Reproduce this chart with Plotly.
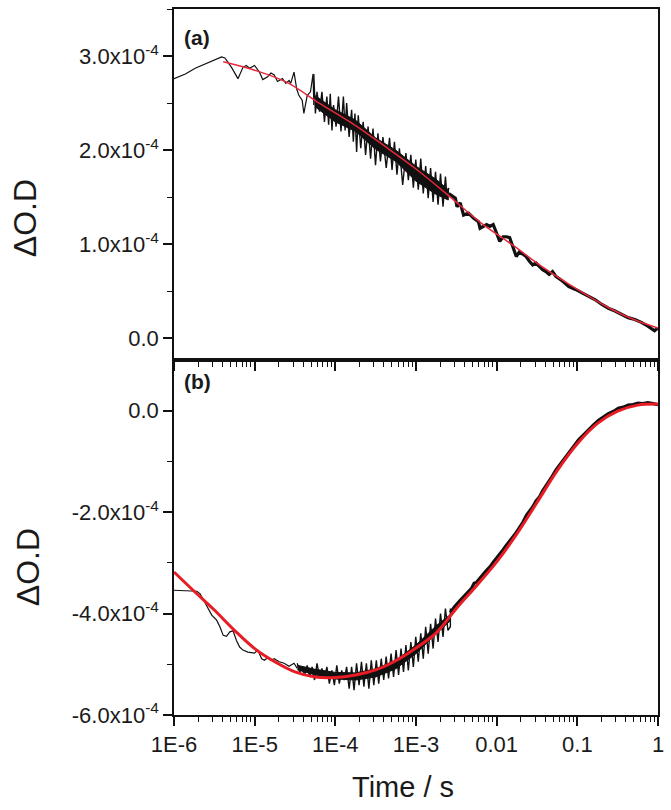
import plotly.graph_objects as go

# ---------------- Panel (a) ----------------
# values: log10(time / s) and ΔO.D in units of 1e-4
a_raw_logt = [-6.0, -5.859, -5.737, -5.574, -5.41, -5.369, -5.287, -5.207, -5.145, -5.104,
              -5.063, -5.002, -4.941, -4.900, -4.839, -4.798, -4.757, -4.717, -4.656, -4.614,
              -4.574, -4.553, -4.512, -4.479, -4.451, -4.411, -4.390, -4.349, -4.308, -4.276, -4.267]
a_raw_dod = [2.76, 2.81, 2.87, 2.93, 2.99, 2.98, 2.88, 2.76, 2.88, 2.90,
             2.87, 2.90, 2.83, 2.75, 2.78, 2.82, 2.80, 2.73, 2.76, 2.71,
             2.74, 2.71, 2.83, 2.65, 2.58, 2.53, 2.39, 2.58, 2.62, 2.81, 2.48]

# dense noisy part: upper and lower spike tips
a_band_hi_logt = [-4.267, -4.227, -4.166, -4.105, -4.063, -4.022, -3.961, -3.900, -3.860, -3.798,
                  -3.757, -3.716, -3.655, -3.594, -3.533, -3.472, -3.410, -3.328, -3.267, -3.206,
                  -3.125, -3.064, -3.003, -2.941, -2.880, -2.819, -2.758, -2.696, -2.635, -2.594]
a_band_hi = [2.81, 2.62, 2.62, 2.57, 2.60, 2.48, 2.57, 2.57, 2.50, 2.43,
             2.39, 2.37, 2.30, 2.25, 2.23, 2.18, 2.14, 2.13, 2.09, 2.02,
             1.97, 1.95, 1.90, 1.91, 1.83, 1.81, 1.77, 1.75, 1.72, 1.60]
a_band_lo_logt = [-4.247, -4.196, -4.135, -4.083, -4.042, -3.991, -3.930, -3.879, -3.829, -3.777,
                  -3.736, -3.685, -3.625, -3.563, -3.502, -3.441, -3.369, -3.297, -3.236, -3.165,
                  -3.095, -3.033, -2.972, -2.910, -2.849, -2.788, -2.727, -2.665, -2.614]
a_band_lo = [2.39, 2.41, 2.30, 2.27, 2.21, 2.25, 2.20, 2.21, 2.14, 2.09,
             1.98, 2.02, 1.95, 1.91, 1.84, 1.88, 1.81, 1.79, 1.74, 1.63,
             1.68, 1.60, 1.58, 1.54, 1.49, 1.45, 1.42, 1.40, 1.49]
# solid core of the dense noise
a_core_logt = [-4.25, -4.0, -3.75, -3.5, -3.25, -3.0, -2.75, -2.6]
a_core_hi = [2.58, 2.43, 2.32, 2.13, 2.00, 1.83, 1.69, 1.58]
a_core_lo = [2.46, 2.30, 2.20, 2.01, 1.88, 1.67, 1.53, 1.47]

a_tail_logt = [-2.594, -2.553, -2.512, -2.492, -2.452, -2.410, -2.349, -2.288, -2.226, -2.206,
               -2.165, -2.125, -2.084, -2.043, -2.002, -1.962, -1.920, -1.880, -1.839, -1.798,
               -1.757, -1.717, -1.675, -1.635, -1.594, -1.553, -1.512, -1.430, -1.390, -1.350,
               -1.308, -1.267, -1.185, -1.105, -1.023, -0.941, -0.860, -0.778, -0.696, -0.615,
               -0.533, -0.451, -0.370, -0.288, -0.206, -0.125, -0.043, 0.0]
a_tail_dod = [1.54, 1.51, 1.49, 1.40, 1.44, 1.31, 1.33, 1.28, 1.24, 1.17,
              1.19, 1.21, 1.19, 1.21, 1.12, 1.03, 1.08, 1.08, 1.07, 0.96,
              0.87, 0.92, 0.89, 0.87, 0.82, 0.78, 0.80, 0.73, 0.71, 0.68,
              0.71, 0.66, 0.61, 0.55, 0.52, 0.48, 0.45, 0.41, 0.36, 0.32,
              0.29, 0.25, 0.22, 0.20, 0.17, 0.13, 0.08, 0.11]

a_fit_logt = [-5.39, -5.0, -4.6, -4.2, -3.8, -3.4, -3.0, -2.6, -2.2, -1.8, -1.4, -1.0, -0.6, -0.3, 0.0]
a_fit_dod = [2.94, 2.85, 2.72, 2.50, 2.29, 2.05, 1.80, 1.52, 1.23, 0.99, 0.74, 0.52, 0.32, 0.20, 0.11]

# ---------------- Panel (b) ----------------
b_raw_logt = [-6.0, -5.819, -5.716, -5.676, -5.614, -5.532, -5.471, -5.431, -5.390, -5.349,
              -5.308, -5.268, -5.226, -5.186, -5.145, -5.084, -5.002, -4.962, -4.913, -4.880,
              -4.839, -4.798, -4.757, -4.696, -4.635, -4.574, -4.512, -4.472]
b_raw_dod = [-3.54, -3.56, -3.56, -3.61, -3.80, -4.03, -4.13, -4.26, -4.43, -4.45,
             -4.36, -4.34, -4.53, -4.66, -4.72, -4.76, -4.78, -4.72, -4.89, -4.92,
             -4.87, -4.92, -4.89, -4.95, -4.98, -5.04, -4.98, -5.08]

b_band_hi_logt = [-4.472, -4.411, -4.349, -4.288, -4.227, -4.166, -4.105, -4.043, -3.982, -3.921,
                  -3.860, -3.798, -3.737, -3.676, -3.615, -3.554, -3.492, -3.431, -3.370, -3.309,
                  -3.247, -3.186, -3.125, -3.064, -3.003, -2.941, -2.880, -2.819, -2.758, -2.696,
                  -2.635, -2.574]
b_band_hi = [-4.98, -5.08, -5.02, -5.05, -4.98, -5.08, -5.05, -5.12, -5.02, -5.12,
             -5.05, -5.05, -4.98, -4.95, -4.98, -4.92, -4.92, -4.89, -4.85, -4.79,
             -4.72, -4.69, -4.62, -4.56, -4.46, -4.39, -4.26, -4.20, -4.10, -4.00,
             -3.90, -3.90]
b_band_lo_logt = [-4.442, -4.380, -4.318, -4.258, -4.196, -4.135, -4.074, -4.012, -3.951, -3.890,
                  -3.829, -3.768, -3.706, -3.646, -3.584, -3.523, -3.462, -3.400, -3.340, -3.278,
                  -3.216, -3.155, -3.095, -3.033, -2.972, -2.910, -2.849, -2.788, -2.727, -2.665,
                  -2.604, -2.574]
b_band_lo = [-5.15, -5.21, -5.25, -5.31, -5.25, -5.28, -5.38, -5.41, -5.38, -5.31,
             -5.48, -5.51, -5.41, -5.44, -5.48, -5.41, -5.38, -5.31, -5.28, -5.25,
             -5.21, -5.15, -5.12, -5.05, -4.95, -4.89, -4.79, -4.69, -4.56, -4.46,
             -4.33, -4.26]
b_core_logt = [-4.47, -4.25, -4.0, -3.75, -3.5, -3.25, -3.0, -2.75, -2.574]
b_core_hi = [-5.02, -5.10, -5.16, -5.17, -5.09, -4.92, -4.62, -4.24, -4.02]
b_core_lo = [-5.11, -5.21, -5.29, -5.31, -5.25, -5.09, -4.79, -4.40, -4.14]

b_tail_logt = [-2.574, -2.52, -2.452, -2.41, -2.37, -2.31, -2.28, -2.247, -2.2, -2.165,
               -2.12, -2.084, -2.04, -2.002, -1.96, -1.92, -1.88, -1.839, -1.80, -1.757,
               -1.72, -1.675, -1.63, -1.594, -1.55, -1.512, -1.47, -1.43, -1.39, -1.35,
               -1.31, -1.267, -1.225, -1.185, -1.145, -1.105, -1.04, -0.982, -0.92, -0.86,
               -0.80, -0.737, -0.68, -0.615, -0.55, -0.492, -0.43, -0.37, -0.31, -0.247,
               -0.19, -0.125, -0.06, 0.0]
b_tail_dod = [-3.98, -3.86, -3.74, -3.66, -3.60, -3.50, -3.40, -3.38, -3.30, -3.22,
              -3.14, -3.08, -2.98, -2.91, -2.83, -2.74, -2.65, -2.58, -2.49, -2.40,
              -2.31, -2.20, -2.06, -1.99, -1.89, -1.78, -1.70, -1.58, -1.49, -1.38,
              -1.29, -1.17, -1.08, -1.00, -0.92, -0.83, -0.68, -0.57, -0.47, -0.37,
              -0.28, -0.19, -0.12, -0.06, -0.01, 0.05, 0.07, 0.11, 0.12, 0.15,
              0.14, 0.16, 0.14, 0.12]

b_fit_logt = [-6.0, -5.75, -5.5, -5.25, -5.0, -4.75, -4.5, -4.25, -4.0, -3.75, -3.5, -3.25,
              -3.0, -2.75, -2.5, -2.25, -2.0, -1.75, -1.5, -1.25, -1.0, -0.75, -0.5, -0.25, 0.0]
b_fit_dod = [-3.18, -3.56, -3.93, -4.33, -4.69, -4.95, -5.15, -5.25, -5.26, -5.21, -5.11, -4.93,
             -4.68, -4.38, -3.90, -3.45, -2.98, -2.43, -1.81, -1.18, -0.65, -0.25, -0.01, 0.11, 0.13]

# tick labels
x_major_lbl = ["1E-6", "1E-5", "1E-4", "1E-3", "0.01", "0.1", "1"]
ya_tick_lbl = ["0.0", "1.0x10<sup>-4</sup>", "2.0x10<sup>-4</sup>", "3.0x10<sup>-4</sup>"]
yb_tick_lbl = ["-6.0x10<sup>-4</sup>", "-4.0x10<sup>-4</sup>", "-2.0x10<sup>-4</sup>", "0.0"]

SCALE = 1e-4


def T(logs):
    return [10 ** v for v in logs]


def Y(vals):
    return [v * SCALE for v in vals]


def spikes(hx, hy, lx, ly):
    """order the read spike tips (upper and lower) by time -> noisy trace"""
    pts = sorted(list(zip(hx, hy)) + list(zip(lx, ly)))
    return [p[0] for p in pts], [p[1] for p in pts]


BLACK = "#111111"
RED_A = "#e8283a"
RED_B = "#e81c24"
FONT = "Liberation Sans, Arial, sans-serif"

fig = go.Figure()


def add_band(core_t, core_hi, core_lo, hx, hy, lx, ly, xa, ya):
    fig.add_trace(go.Scatter(x=T(core_t) + T(core_t)[::-1], y=Y(core_hi) + Y(core_lo)[::-1],
                             mode="lines", fill="toself", fillcolor=BLACK,
                             line=dict(color=BLACK, width=1), xaxis=xa, yaxis=ya))
    sx, sy = spikes(hx, hy, lx, ly)
    fig.add_trace(go.Scatter(x=T(sx), y=Y(sy), mode="lines",
                             line=dict(color=BLACK, width=1.4), xaxis=xa, yaxis=ya))


# panel (a) traces (x2, y2)
fig.add_trace(go.Scatter(x=T(a_raw_logt), y=Y(a_raw_dod), mode="lines",
                         line=dict(color=BLACK, width=1.2), xaxis="x2", yaxis="y2"))
add_band(a_core_logt, a_core_hi, a_core_lo, a_band_hi_logt, a_band_hi,
         a_band_lo_logt, a_band_lo, "x2", "y2")
fig.add_trace(go.Scatter(x=T(a_tail_logt), y=Y(a_tail_dod), mode="lines",
                         line=dict(color=BLACK, width=3.2), xaxis="x2", yaxis="y2"))
fig.add_trace(go.Scatter(x=T(a_fit_logt), y=Y(a_fit_dod), mode="lines", line_shape="spline",
                         line=dict(color=RED_A, width=1.5), xaxis="x2", yaxis="y2"))

# panel (b) traces (x, y)
fig.add_trace(go.Scatter(x=T(b_raw_logt), y=Y(b_raw_dod), mode="lines",
                         line=dict(color=BLACK, width=1.2), xaxis="x", yaxis="y"))
add_band(b_core_logt, b_core_hi, b_core_lo, b_band_hi_logt, b_band_hi,
         b_band_lo_logt, b_band_lo, "x", "y")
fig.add_trace(go.Scatter(x=T(b_tail_logt), y=Y(b_tail_dod), mode="lines",
                         line=dict(color=BLACK, width=3.2)))
fig.add_trace(go.Scatter(x=T(b_fit_logt), y=Y(b_fit_dod), mode="lines", line_shape="spline",
                         line=dict(color=RED_B, width=3)))

x_major = [10.0 ** k for k in range(-6, 1)]
x_minor = [m * 10.0 ** k for k in range(-6, 0) for m in range(2, 10)]

axis_common = dict(showline=True, linecolor=BLACK, linewidth=1.5, mirror=True,
                   ticks="outside", ticklen=9, tickwidth=1.5, tickcolor=BLACK,
                   showgrid=False, zeroline=False,
                   tickfont=dict(family=FONT, size=22, color="#1a1a1a"))

x_common = dict(axis_common, type="log", range=[-6, 0], tickmode="array", tickvals=x_major,
                minor=dict(tickmode="array", tickvals=x_minor, ticks="outside", ticklen=5,
                           tickwidth=1.2, tickcolor=BLACK))

split = 356 / 708

fig.update_layout(
    width=671, height=810,
    margin=dict(l=174, r=7, t=7, b=95),
    paper_bgcolor="white", plot_bgcolor="white",
    showlegend=False,
    xaxis=dict(x_common, anchor="y", ticktext=x_major_lbl),
    xaxis2=dict(x_common, anchor="y2", matches="x", showticklabels=False),
    yaxis=dict(axis_common, domain=[0, split], range=[-6e-4, 1e-4], tickmode="array",
               tickvals=Y([-6, -4, -2, 0]), ticktext=yb_tick_lbl,
               minor=dict(tickmode="array", tickvals=Y([-5, -3, -1]), ticks="outside",
                          ticklen=5, tickwidth=1.2, tickcolor=BLACK)),
    yaxis2=dict(axis_common, domain=[split, 1], range=[-0.23e-4, 3.5e-4], tickmode="array",
                tickvals=Y([0, 1, 2, 3]), ticktext=ya_tick_lbl,
                minor=dict(tickmode="array", tickvals=Y([0.5, 1.5, 2.5, 3.5]), ticks="outside",
                           ticklen=5, tickwidth=1.2, tickcolor=BLACK)),
)


def ann(text, x, y, size, bold=False, angle=0, xanchor="center"):
    fig.add_annotation(text=("<b>%s</b>" % text) if bold else text, xref="paper", yref="paper",
                       x=x, y=y, xanchor=xanchor, yanchor="middle", showarrow=False,
                       textangle=angle, font=dict(family=FONT, size=size, color="#1a1a1a"))


W = 490.0
H = 708.0
px = lambda p: (p - 174) / W
py = lambda p: (715 - p) / H

ann("ΔO.D", px(24), py(217), 32, angle=-90)
ann("ΔO.D", px(27), py(567), 32, angle=-90)
ann("Time / s", px(406), py(787), 29)
ann("(a)", px(182), py(36), 21, bold=True, xanchor="left")
ann("(b)", px(182), py(381), 21, bold=True, xanchor="left")

fig.write_html("out.html", config={"displayModeBar": False},
               post_script="document.body.style.margin='0px';document.body.style.overflow='hidden';")
